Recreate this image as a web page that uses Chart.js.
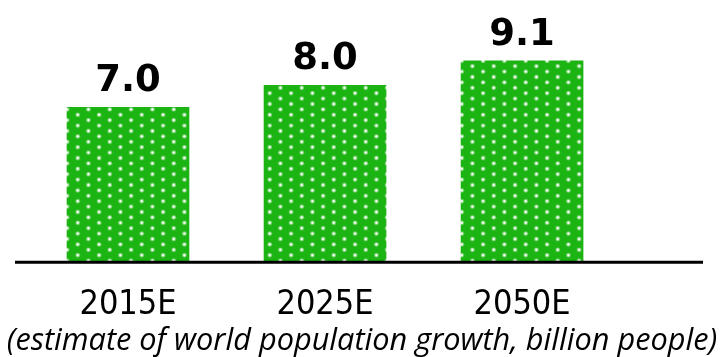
<!DOCTYPE html>
<html>
<head>
<meta charset="utf-8">
<script src="https://cdn.jsdelivr.net/npm/chart.js@4/dist/chart.umd.min.js"></script>
<style>
html,body{margin:0;padding:0;background:#fff;overflow:hidden;}
canvas{display:block;}
</style>
</head>
<body>
<canvas id="c" width="724" height="357"></canvas>
<script>
const categories = ['2015E', '2025E', '2050E'];
const values = [7.0, 8.0, 9.1];
const valueLabels = ['7.0', '8.0', '9.1'];
const caption = '(estimate of world population growth, billion people)';

const GREEN = 'rgb(28,180,18)';

function makePattern(ctx) {
  const t = document.createElement('canvas');
  t.width = 64; t.height = 54;
  const g = t.getContext('2d');
  g.fillStyle = GREEN;
  g.fillRect(0, 0, 64, 54);
  const sx = 64 / 6, sy = 54 / 10;
  for (let i = 0; i < 6; i++) {
    for (let j = 0; j < 10; j++) {
      if ((i + j) % 2) continue;
      const x = 5 + i * sx, y = 2.7 + j * sy;
      g.fillStyle = 'rgba(255,255,255,0.4)';
      g.beginPath(); g.arc(x, y, 2.3, 0, Math.PI * 2); g.fill();
      g.fillStyle = 'rgba(255,255,255,0.95)';
      g.beginPath(); g.arc(x, y, 1.35, 0, Math.PI * 2); g.fill();
    }
  }
  const p = ctx.createPattern(t, 'repeat');
  if (p.setTransform) p.setTransform(new DOMMatrix().translate(8.7, 4.1));
  return p;
}

const canvas = document.getElementById('c');
const ctx = canvas.getContext('2d');
const pattern = makePattern(ctx);

const valueLabelPlugin = {
  id: 'valueLabels',
  afterDatasetsDraw(chart) {
    const c = chart.ctx;
    const area = chart.chartArea;
    c.save();
    // baseline (axis line) spanning slightly beyond the bars
    c.strokeStyle = '#000';
    c.lineWidth = 3;
    c.beginPath();
    c.moveTo(area.left + 15, area.bottom);
    c.lineTo(area.right - 21, area.bottom);
    c.stroke();
    // value labels above bars
    const meta = chart.getDatasetMeta(0);
    c.font = 'bold 37px "DejaVu Sans"';
    c.fillStyle = '#000';
    c.textAlign = 'center';
    c.textBaseline = 'alphabetic';
    meta.data.forEach((bar, i) => {
      c.fillText(valueLabels[i], bar.x, bar.y - 16);
    });
    c.restore();
  }
};

new Chart(ctx, {
  type: 'bar',
  data: {
    datasets: [{
      data: categories.map((c, i) => ({ x: i, y: values[i] })),
      backgroundColor: pattern,
      borderWidth: 0,
      barThickness: 122
    }]
  },
  options: {
    responsive: false,
    animation: false,
    devicePixelRatio: 1,
    layout: { padding: { left: 0, right: 0, top: 41, bottom: 0 } },
    scales: {
      x: {
        type: 'linear',
        min: -0.6497,
        max: 3.025,
        offset: false,
        afterBuildTicks: (s) => { s.ticks = categories.map((c, i) => ({ value: i })); },
        afterFit: (s) => { s.height = 64; },
        ticks: {
          callback: (v) => categories[v],
          font: { family: '"Liberation Sans Narrow", "DejaVu Sans Condensed", sans-serif', size: 34, lineHeight: 1 },
          color: '#000',
          padding: 26,
          maxRotation: 0,
          autoSkip: false
        },
        grid: { display: false, drawTicks: false, offset: false },
        border: { display: false }
      },
      y: { display: false, min: 0, max: 10 }
    },
    plugins: {
      legend: { display: false },
      tooltip: { enabled: false },
      title: {
        display: true,
        position: 'bottom',
        text: caption,
        font: { family: '"Open Sans"', style: 'italic', size: 30.7, weight: 'normal', lineHeight: 1 },
        color: '#000',
        padding: { top: 0, bottom: 0 }
      }
    }
  },
  plugins: [valueLabelPlugin]
});
</script>
</body>
</html>
